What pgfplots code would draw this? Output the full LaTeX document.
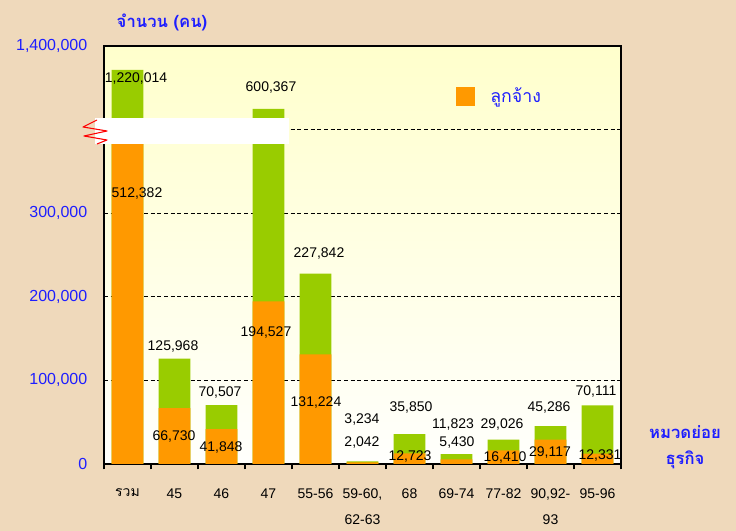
\documentclass[border=0pt]{standalone}
\usepackage{fontspec}
\setmainfont{Liberation Sans}
\newfontfamily\thai[Script=Thai]{Loma}
\usepackage{pgfplots}
\pgfplotsset{compat=1.18}
\definecolor{bgc}{RGB}{239,217,187}
\definecolor{empgreen}{RGB}{153,204,0}
\definecolor{emporange}{RGB}{255,153,0}
\definecolor{axblue}{RGB}{30,30,255}
\definecolor{plotyellow}{RGB}{255,255,204}

\begin{document}
\begin{tikzpicture}
\fill[bgc] (0,0) rectangle (552pt,398.25pt);
\begin{axis}[
  at={(78pt,50.25pt)}, anchor=south west,
  scale only axis, width=387.75pt, height=313.5pt,
  axis background/.style={top color=plotyellow, bottom color=white!95!plotyellow},
  axis line style={line width=1.1pt},
  ybar, bar width=0.68,
  enlargelimits=false,
  xmin=-0.5, xmax=10.5, ymin=0, ymax=1400000,
  % broken axis: linear up to 400,000, compressed above
  y coord trafo/.code={\begingroup\pgfkeys{/pgf/fpu=true,/pgf/fpu/output format=fixed}%
    \pgfmathparse{min(#1,400000)+0.12298*max(0,min(#1,600367)-400000)+0.075286*max(0,min(#1,1220014)-600367)+0.1595*max(0,#1-1220014)}%
    \pgfmathsmuggle\pgfmathresult\endgroup},
  scaled y ticks=false,
  ytick={0,100000,200000,300000,400000,1400000},
  yticklabels={0,{100,000},{200,000},{300,000},{},{1,400,000}},
  yticklabel style={font=\fontsize{12}{14}\selectfont, text=axblue, xshift=-9pt},
  ymajorgrids,
  grid style={densely dashed, black, line width=0.6pt},
  xtick={0,...,10},
  xticklabels={{\thai รวม},45,46,47,55-56,{59-60,\\62-63},68,69-74,77-82,{90,92-\\93},95-96},
  xticklabel style={align=center, anchor=north, yshift=-15pt, font=\fontsize{10.5}{19.5}\selectfont},
  minor xtick={-0.5,0.5,...,10.5},
  tick pos=left, tick align=outside,
  major tick length=0pt, minor tick length=4pt,
  minor tick style={black, line width=1.1pt},
  legend style={at={(0.672,0.88)}, anchor=west, draw=none, fill=none,
    font=\thai\fontsize{13.3}{15}\selectfont\color{axblue}},
  legend image code/.code={\fill[emporange] (0pt,-7.1pt) rectangle (14.25pt,7.1pt);
    \path (24pt,0pt);},
]
\addplot[fill=empgreen, draw=none, bar shift=0pt, forget plot] coordinates {
  (0,1220014) (1,125968) (2,70507) (3,600367) (4,227842) (5,3234)
  (6,35850) (7,11823) (8,29026) (9,45286) (10,70111)};
\addplot[fill=emporange, draw=none, bar shift=0pt] coordinates {
  (0,512382) (1,66730) (2,41848) (3,194527) (4,131224) (5,2042)
  (6,12723) (7,5430) (8,16410) (9,29117) (10,12331)};
\addlegendentry{ลูกจ้าง}
\end{axis}
\begin{scope}[x=0.75pt, y=-0.75pt, shift={(0pt,398.25pt)}]
  % axis break
  \fill[white] (95,118) rectangle (289,144);
  \draw[red, line width=0.8pt, line join=round]
    (97,120) -- (83,127) -- (107,131) -- (84,136) -- (107,140) -- (97,144);
  % axis titles
  \node[text=axblue, font=\thai\bfseries\fontsize{12.5}{14}\selectfont] at (162,22) {จำนวน (คน)};
  \node[text=axblue, font=\thai\bfseries\fontsize{12.5}{14}\selectfont] at (685,432) {หมวดย่อย};
  \node[text=axblue, font=\thai\bfseries\fontsize{12.5}{14}\selectfont] at (685,460) {ธุรกิจ};
  % value labels
  \begin{scope}[every node/.style={font=\fontsize{10.5}{12}\selectfont, inner sep=0pt}]
  \node at (136,79) {1,220,014};
  \node at (271,88) {600,367};
  \node at (173,347) {125,968};
  \node at (319,254) {227,842};
  \node at (220,393) {70,507};
  \node at (362,420) {3,234};
  \node at (411,408) {35,850};
  \node at (453,425) {11,823};
  \node at (502,425) {29,026};
  \node at (549,408) {45,286};
  \node at (596,392) {70,111};
  \node at (137,194) {512,382};
  \node at (174,437) {66,730};
  \node at (221,448) {41,848};
  \node at (266,333) {194,527};
  \node at (316,403) {131,224};
  \node at (362,443) {2,042};
  \node at (410,457) {12,723};
  \node at (457,443) {5,430};
  \node at (505,458) {16,410};
  \node at (550,453) {29,117};
  \node at (600,456) {12,331};
  \end{scope}
\end{scope}
\pgfresetboundingbox
\useasboundingbox (0,0) rectangle (552pt,398.25pt);
\end{tikzpicture}
\end{document}
